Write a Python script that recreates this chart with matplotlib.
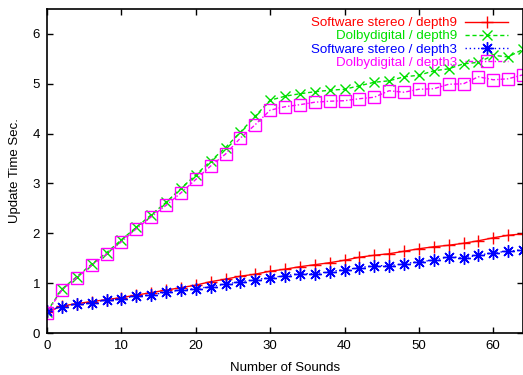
import matplotlib
matplotlib.use("Agg")
import matplotlib.pyplot as plt

plt.rcParams['font.family'] = ['Liberation Sans', 'DejaVu Sans']

sounds = list(range(0, 65, 2))

sw_depth9 = [0.42, 0.54, 0.59, 0.63, 0.67, 0.71, 0.76, 0.81, 0.86, 0.91, 0.96, 1.03,
             1.08, 1.14, 1.18, 1.24, 1.28, 1.33, 1.37, 1.41, 1.46, 1.52, 1.56, 1.59,
             1.64, 1.69, 1.73, 1.76, 1.80, 1.85, 1.91, 1.96, 1.99]
dolby_depth9 = [0.43, 0.88, 1.13, 1.38, 1.61, 1.87, 2.12, 2.37, 2.62, 2.90, 3.17, 3.45,
                3.72, 4.03, 4.35, 4.67, 4.75, 4.80, 4.84, 4.87, 4.89, 4.96, 5.03, 5.06,
                5.14, 5.17, 5.26, 5.30, 5.40, 5.43, 5.57, 5.54, 5.69]
sw_depth3 = [0.44, 0.53, 0.58, 0.61, 0.66, 0.69, 0.74, 0.76, 0.82, 0.86, 0.89, 0.93,
             0.98, 1.03, 1.07, 1.11, 1.15, 1.19, 1.19, 1.23, 1.27, 1.31, 1.35, 1.35,
             1.39, 1.43, 1.46, 1.53, 1.51, 1.56, 1.61, 1.64, 1.67]
dolby_depth3 = [0.41, 0.86, 1.11, 1.36, 1.58, 1.83, 2.09, 2.33, 2.56, 2.81, 3.08, 3.35,
                3.59, 3.91, 4.18, 4.47, 4.54, 4.58, 4.63, 4.65, 4.66, 4.70, 4.73, 4.86,
                4.83, 4.89, 4.90, 4.99, 5.00, 5.14, 5.08, 5.10, 5.18]

labels = ["Software stereo / depth9", "Dolbydigital / depth9",
          "Software stereo / depth3", "Dolbydigital / depth3"]
xticks = [0, 10, 20, 30, 40, 50, 60]
yticks = [0, 1, 2, 3, 4, 5, 6]

fig = plt.figure(figsize=(5.23, 3.75), dpi=100)
ax = fig.add_axes([47/523, 42/375, 476/523, 324/375])

ax.plot(sounds, sw_depth9, color='#ff0000', lw=1.0, ls='-', marker='+', ms=8, mew=1.0,
        label=labels[0])
ax.plot(sounds, dolby_depth9, color='#00e000', lw=1.0, ls=(0, (3, 2)), marker='x', ms=7, mew=1.0,
        label=labels[1])
ax.plot(sounds, sw_depth3, color='#0000ff', lw=1.0, ls=(0, (1, 2)), marker=(8, 2, 0), ms=9, mew=1.0,
        label=labels[2])
ax.plot(sounds, dolby_depth3, color='#ff00ff', lw=1.0, ls=(0, (1, 1.5, 3, 1.5)), marker='s', ms=8.5,
        mfc='none', mew=1.0, label=labels[3])

ax.set_xlim(0, 64)
ax.set_ylim(0, 6.5)
ax.set_xticks(xticks)
ax.set_yticks(yticks)
ax.tick_params(direction='in', length=4, width=1, top=True, right=True, labelsize=9.5, pad=5)
for s in ax.spines.values():
    s.set_linewidth(1.2)

ax.set_xlabel("Number of Sounds", fontsize=9.5, labelpad=7)
ax.set_ylabel("Update Time Sec.", fontsize=9.5, labelpad=8)

leg = ax.legend(loc='upper right', frameon=False, markerfirst=False, labelcolor='linecolor',
                fontsize=9.6, handlelength=3.2, handletextpad=0.6, labelspacing=0.06,
                borderaxespad=0.2, bbox_to_anchor=(0.985, 1.0))

fig.savefig("out.png", dpi=100)
